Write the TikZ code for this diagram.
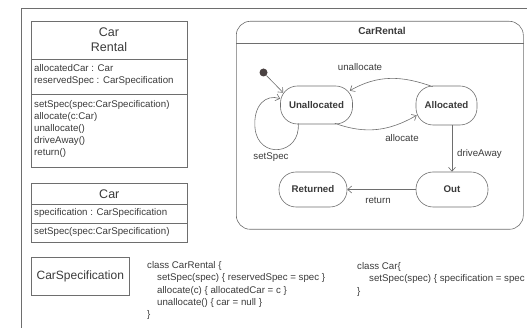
\documentclass[tikz,border=0pt]{standalone}
\usepackage{fontspec}
\setmainfont{Liberation Sans}
\usetikzlibrary{arrows.meta}
\definecolor{ink}{HTML}{3A3A3A}
\definecolor{edge}{HTML}{6E6E6E}
\definecolor{dot}{HTML}{4A4242}
\begin{document}
\begin{tikzpicture}[x=1pt,y=-1pt,
 txt/.style={inner sep=0pt, text=ink, font=\fontsize{9.7}{12}\selectfont, text height=7pt, text depth=2pt},
 ttl/.style={inner sep=0pt, text=ink, align=center, font=\fontsize{12.5}{15}\selectfont},
 box/.style={draw=edge, line width=0.6pt, inner sep=0pt, anchor=north west},
 statebox/.style={draw=edge, line width=0.6pt, rounded corners=17pt, inner sep=0pt, text=ink, font=\fontsize{9.7}{12}\selectfont\bfseries},
 tr/.style={draw=edge, line width=0.6pt, -{Straight Barb[length=4pt,width=7pt]}},
]
\useasboundingbox (0,0) rectangle (527,328);
% outer frame
\draw[edge, line width=0.7pt] (21,328) -- (21,8) -- (527,8);

% CarRental class
\node[box, minimum width=156pt, minimum height=38pt] (crName) at (31,21) {};
\node[box, minimum width=156pt, minimum height=35pt] (crAttr) at (31,59) {};
\node[box, minimum width=156pt, minimum height=73pt] (crOps) at (31,94) {};
\node[ttl] (crTitle) at (109,39.5) {Car\\Rental};
\node[txt, anchor=west] (a1) at (34,69) {allocatedCar : Car};
\node[txt, anchor=west] (a2) at (34,81) {reservedSpec : CarSpecification};
\node[txt, anchor=west] (o1) at (34,105) {setSpec(spec:CarSpecification)};
\node[txt, anchor=west] (o2) at (34,117) {allocate(c:Car)};
\node[txt, anchor=west] (o3) at (34,129) {unallocate()};
\node[txt, anchor=west] (o4) at (34,141) {driveAway()};
\node[txt, anchor=west] (o5) at (34,153) {return()};

% Car class
\node[box, minimum width=156pt, minimum height=21pt] (cName) at (31,183) {};
\node[box, minimum width=156pt, minimum height=19pt] (cAttr) at (31,204) {};
\node[box, minimum width=156pt, minimum height=19pt] (cOps) at (31,223) {};
\node[ttl] (cTitle) at (cName.center) {Car};
\node[txt, anchor=west] (ca1) at (34,213.5) {specification : CarSpecification};
\node[txt, anchor=west] (co1) at (34,232.5) {setSpec(spec:CarSpecification)};

% CarSpecification
\node[box, minimum width=98pt, minimum height=38pt] (cs) at (31,257) {};
\node[ttl, font=\fontsize{12}{14}\selectfont] (csT) at (cs.center) {CarSpecification};

% code
\node[txt, anchor=west] (k1) at (147,266) {class CarRental \{};
\node[txt, anchor=west] (k2) at (157,278.5) {setSpec(spec) \{ reservedSpec = spec \}};
\node[txt, anchor=west] (k3) at (157,291) {allocate(c) \{ allocatedCar = c \}};
\node[txt, anchor=west] (k4) at (157,303) {unallocate() \{ car = null \}};
\node[txt, anchor=west] (k5) at (147,315) {\}};
\node[txt, anchor=west] (m1) at (357,267) {class Car\{};
\node[txt, anchor=west] (m2) at (369,279.5) {setSpec(spec) \{ specification = spec \}};
\node[txt, anchor=west] (m3) at (357,292) {\}};

% state machine
\node[box, rounded corners=14pt, minimum width=287pt, minimum height=208pt] (sm) at (236,21) {};
\draw[edge, line width=0.6pt] (sm.west |- 0,43) -- (sm.east |- 0,43);
\node[txt, font=\fontsize{10}{12}\selectfont\bfseries] (smT) at (382,32) {CarRental};

\node[statebox, minimum width=72pt, minimum height=38pt] (U) at (316.5,105) {Unallocated};
\node[statebox, minimum width=61pt, minimum height=39pt] (A) at (446.5,105.5) {Allocated};
\node[statebox, minimum width=68pt, minimum height=35pt] (R) at (313,189.5) {Returned};
\node[statebox, minimum width=72pt, minimum height=35pt] (O) at (452,189.5) {Out};
\node[circle, fill=dot, inner sep=0pt, minimum size=8pt] (init) at (263.5,72.5) {};

\draw[tr] (init) -- ([shift={(3,7)}]U.north west);
\draw[tr] ([shift={(17,1)}]A.north west) to[out=160, in=30] ([shift={(-3,5)}]U.north east);
\draw[tr] ([shift={(-18,-1)}]U.south east) to[out=-20, in=210] ([shift={(1,-10)}]A.south west);
\draw[tr] ([shift={(18,-1)}]U.south west) .. controls (301,155) and (258,160) .. (255,128)
   .. controls (253,105) and (266,94) .. ([shift={(0,13)}]U.north west);
\draw[tr] (O.north |- A.south) -- (O.north);
\draw[tr] (O.west) -- (R.east);

\node[txt] (lU) at (360,68) {unallocate};
\node[txt] (lA) at (402,139) {allocate};
\node[txt] (lS) at (271,157) {setSpec};
\node[txt, anchor=west] (lD) at (457,154) {driveAway};
\node[txt] (lR) at (378,201.5) {return};
\end{tikzpicture}
\end{document}
